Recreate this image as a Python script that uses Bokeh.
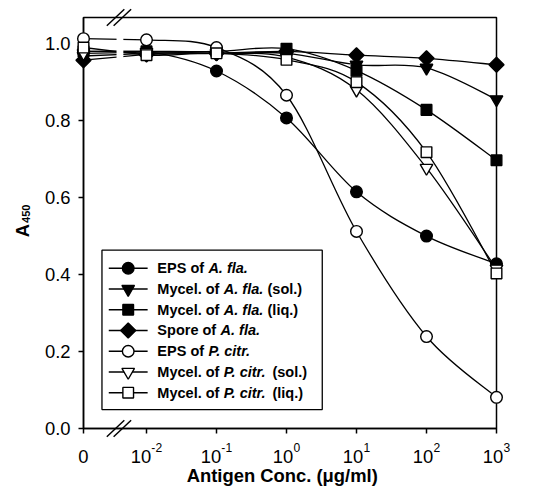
import numpy as np
from bokeh.plotting import figure
from bokeh.models import Range1d, FixedTicker, PrintfTickFormatter, CustomJSTickFormatter
from bokeh.core.properties import value
from bokeh.embed import file_html
from bokeh.resources import INLINE

# ---------------- data ----------------
# axis positions of the concentrations; "0" sits before the axis break
x_pos = [-0.9, 0, 1, 2, 3, 4, 5]
x_tick_base = ["0", "10", "10", "10", "10", "10", "10"]
x_tick_exp = ["", "-2", "-1", "0", "1", "2", "3"]
y_ticks = [0.0, 0.2, 0.4, 0.6, 0.8, 1.0]

eps_afla        = [0.980, 0.980, 0.929, 0.807, 0.615, 0.500, 0.428]
mycel_afla_sol  = [0.968, 0.975, 0.975, 0.975, 0.945, 0.937, 0.855]
mycel_afla_liq  = [0.980, 0.980, 0.980, 0.987, 0.930, 0.828, 0.697]
spore_afla      = [0.957, 0.972, 0.975, 0.980, 0.970, 0.962, 0.945]
eps_pcitr       = [1.013, 1.010, 0.990, 0.866, 0.512, 0.239, 0.081]
mycel_pcitr_sol = [0.975, 0.978, 0.975, 0.965, 0.880, 0.677, 0.415]
mycel_pcitr_liq = [0.990, 0.970, 0.975, 0.958, 0.900, 0.718, 0.403]

series = [eps_afla, mycel_afla_sol, mycel_afla_liq, spore_afla,
          eps_pcitr, mycel_pcitr_sol, mycel_pcitr_liq]
legend_pre = ["EPS of ", "Mycel. of ", "Mycel. of ", "Spore of ",
              "EPS of ", "Mycel. of ", "Mycel. of "]
legend_ital = ["A. fla.", "A. fla.", "A. fla.", "A. fla.",
               "P. citr.", "P. citr.", "P. citr."]
legend_post = ["", "(sol.)", "(liq.)", "", "", "(sol.)", "(liq.)"]

FONT = "Liberation Sans"

# ---------------- layout (reference pixels, scaled to fit the page) ----------------
W, H = 517, 487
REF_W, REF_H = 533, 503
SX, SY = W / REF_W, H / REF_H
S = min(SX, SY)
FL, FR, FT, FB = 86.0, 511.0, 18.0, 442.0     # frame edges in reference pixels
X0, X1 = -0.9, 5.0
Y0, Y1 = 0.0, 1.068


def dx(px):
    return X0 + (px - FL) / (FR - FL) * (X1 - X0)


def dy(py):
    return Y0 + (FB - py) / (FB - FT) * (Y1 - Y0)


def fs(size):
    return f"{size * S:.1f}px"


# marker styles: (marker, fill, size, angle)
styles = [
    ("circle", "black", 12 * S, 0.0),
    ("inverted_triangle", "black", 13 * S, 0.0),
    ("square", "black", 11 * S, 0.0),
    ("square", "black", 11 * S, np.pi / 4),
    ("circle", "white", 12 * S, 0.0),
    ("inverted_triangle", "white", 13 * S, 0.0),
    ("square", "white", 11 * S, 0.0),
]

# Arial/Liberation Sans Bold advance widths (1/1000 em)
WB = {' ': 278, '(': 333, ')': 333, '.': 278, 'A': 722, 'E': 667, 'M': 833,
      'P': 667, 'S': 667, 'a': 556, 'c': 556, 'e': 556, 'f': 333, 'i': 278,
      'l': 278, 'o': 611, 'p': 611, 'q': 611, 'r': 389, 's': 556, 't': 333,
      'y': 556}


def tw(s, size):
    return sum(WB.get(ch, 556) for ch in s) * size / 1000.0


p = figure(width=W, height=H, x_range=Range1d(X0, X1), y_range=Range1d(Y0, Y1),
           output_backend="svg", toolbar_location=None,
           min_border_left=int(round(FL * SX)), min_border_right=W - int(round(FR * SX)),
           min_border_top=int(round(FT * SY)), min_border_bottom=H - int(round(FB * SY)))
p.grid.visible = False
p.outline_line_color = "black"
p.outline_line_width = 1.5
p.background_fill_color = "white"
p.border_fill_color = "white"

for ax in (p.xaxis, p.yaxis):
    ax.axis_line_width = 1.5
    ax.axis_line_color = "black"
    ax.major_tick_line_width = 1.5
    ax.major_tick_line_color = "black"
    ax.major_tick_out = 5
    ax.major_tick_in = 0
    ax.minor_tick_line_color = None

p.xaxis.ticker = FixedTicker(ticks=x_pos)
p.xaxis.formatter = CustomJSTickFormatter(code="return ''")
p.xaxis.major_label_standoff = 0

p.yaxis.ticker = FixedTicker(ticks=y_ticks)
p.yaxis.formatter = PrintfTickFormatter(format="%.1f")
p.yaxis.major_label_text_font = FONT
p.yaxis.major_label_text_font_size = fs(19)
p.yaxis.major_label_text_color = "black"
p.yaxis.major_label_standoff = 8

# ---------------- lines ----------------
for vals in series:
    pts = list(zip(x_pos, vals))
    # straight piece across the axis break
    p.segment(x0=[pts[0][0]], y0=[pts[0][1]], x1=[pts[1][0]], y1=[pts[1][1]],
              line_color="black", line_width=1.3)
    bx0, by0, bx1, by1, cx0, cy0, cx1, cy1 = [], [], [], [], [], [], [], []
    n = len(pts)
    for i in range(1, n - 1):
        P0 = pts[i - 1]
        P1 = pts[i]
        P2 = pts[i + 1]
        P3 = pts[i + 2] if i + 2 < n else pts[i + 1]
        bx0.append(P1[0]); by0.append(P1[1])
        bx1.append(P2[0]); by1.append(P2[1])
        cx0.append(P1[0] + (P2[0] - P0[0]) / 6.0)
        cy0.append(P1[1] + (P2[1] - P0[1]) / 6.0)
        cx1.append(P2[0] - (P3[0] - P1[0]) / 6.0)
        cy1.append(P2[1] - (P3[1] - P1[1]) / 6.0)
    p.bezier(x0=bx0, y0=by0, x1=bx1, y1=by1, cx0=cx0, cy0=cy0, cx1=cx1, cy1=cy1,
             line_color="black", line_width=1.3)

# gap in the lines at the axis break
p.quad(left=[dx(120)], right=[dx(127)], bottom=[0.90], top=[1.045],
       fill_color="white", line_color=None)

# break marks "//" at the top and bottom axes
for yc in (FT, FB):
    p.segment(x0=[dx(110), dx(117)], y0=[dy(yc + 8.5)] * 2,
              x1=[dx(128), dx(135)], y1=[dy(yc - 8.5)] * 2,
              line_color="black", line_width=1.5, level="overlay")

# ---------------- markers ----------------
for vals, (mk, fill, sz, ang) in zip(series, styles):
    p.scatter(x=x_pos, y=vals, marker=mk, size=sz, angle=ang,
              fill_color=fill, line_color="black", line_width=1.4, level="overlay")

# ---------------- legend ----------------
p.quad(left=[dx(105)], right=[dx(331.7)], top=[dy(258)], bottom=[dy(422.5)],
       fill_color="white", line_color="black", line_width=1.3)
LFS = 15.0
norm_x, norm_y, norm_t, it_x, it_y, it_t = [], [], [], [], [], []
for i, (pre, ital, post) in enumerate(zip(legend_pre, legend_ital, legend_post)):
    rpy = 276.7 + i * 21.4
    ry = dy(rpy)
    mk, fill, sz, ang = styles[i]
    p.segment(x0=[dx(112)], y0=[ry], x1=[dx(152)], y1=[ry], line_color="black", line_width=1.3)
    p.scatter(x=[dx(132)], y=[ry], marker=mk, size=sz, angle=ang,
              fill_color=fill, line_color="black", line_width=1.4)
    x0p = 162.0
    norm_x.append(dx(x0p)); norm_y.append(ry); norm_t.append(pre.strip())
    x1p = x0p + tw(pre, LFS)
    it_x.append(dx(x1p)); it_y.append(ry); it_t.append(ital)
    if post:
        x2p = x1p + tw(ital + " ", LFS)
        norm_x.append(dx(x2p)); norm_y.append(ry); norm_t.append(post)

p.text(x=norm_x, y=norm_y, text=norm_t, text_font=value(FONT), text_font_size=fs(LFS),
       text_font_style="bold", text_align="left", text_baseline="middle", text_color="black")
p.text(x=it_x, y=it_y, text=it_t, text_font=value(FONT), text_font_size=fs(LFS),
       text_font_style="bold italic", text_align="left", text_baseline="middle", text_color="black")

# ---------------- x tick labels (with superscripts) ----------------
TFS, SFS = 19, 12.5
MID_PX = 471.0        # vertical centre of the tick numbers
SUP_PX = 462.0        # vertical centre of the exponents
tb_x, tb_y, tb_t, te_x, te_y, te_t = [], [], [], [], [], []
for xp, base, ex in zip(x_pos, x_tick_base, x_tick_exp):
    tick_px = FL + (xp - X0) / (X1 - X0) * (FR - FL)
    wbase = 0.556 * TFS * len(base)
    wexp = sum(0.333 if c == "-" else 0.556 for c in ex) * SFS
    left = tick_px - (wbase + wexp) / 2.0
    tb_x.append(dx(left)); tb_y.append(dy(MID_PX)); tb_t.append(base)
    if ex:
        te_x.append(dx(left + wbase)); te_y.append(dy(SUP_PX)); te_t.append(ex)

p.text(x=tb_x, y=tb_y, text=tb_t, text_font=value(FONT), text_font_size=fs(TFS),
       text_align="left", text_baseline="middle", text_color="black", level="overlay")
p.text(x=te_x, y=te_y, text=te_t, text_font=value(FONT), text_font_size=fs(SFS),
       text_align="left", text_baseline="middle", text_color="black", level="overlay")

# x-axis title
p.text(x=[dx(290.5)], y=[dy(490.5)], text=["Antigen Conc. (\u03bcg/ml)"], text_font=value(FONT),
       text_font_size=fs(19), text_font_style="bold", text_align="center",
       text_baseline="middle", text_color="black", level="overlay")

# y-axis title A450 (rotated, with subscript)
p.text(x=[dx(23.5)], y=[dy(231)], text=["A"], text_font=value(FONT), text_font_size=fs(19),
       text_font_style="bold", angle=np.pi / 2, text_align="right",
       text_baseline="middle", text_color="black", level="overlay")
p.text(x=[dx(27)], y=[dy(230)], text=["450"], text_font=value(FONT), text_font_size=fs(11.5),
       text_font_style="bold", angle=np.pi / 2, text_align="left",
       text_baseline="middle", text_color="black", level="overlay")

open("out.html", "w").write(file_html(p, INLINE))
